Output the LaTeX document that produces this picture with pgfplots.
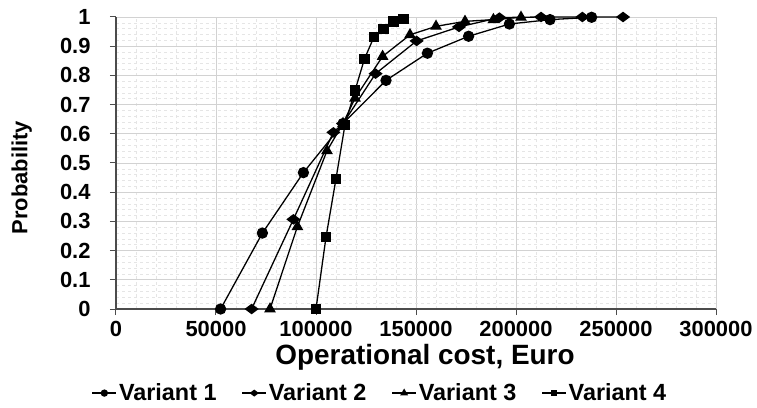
\documentclass[border=0pt]{standalone}
\usepackage{pgfplots}
\pgfplotsset{compat=1.18}
\usepackage{fontspec}
\setmainfont{Liberation Sans}
\begin{document}
\begin{tikzpicture}
\useasboundingbox (-116bp,-99bp) rectangle (641bp,309bp);
\begin{axis}[
  at={(0,0)}, anchor=south west,
  scale only axis, width=600bp, height=292bp,
  xmin=0, xmax=300000, ymin=0, ymax=1,
  xtick={0,50000,...,300000},
  ytick={0,0.1,...,1.0},
  minor x tick num=4, minor y tick num=4,
  grid=both,
  major grid style={draw=gray!35, line width=0.8bp},
  minor grid style={draw=gray!20, dashed, line width=0.6bp},
  axis x line*=bottom, axis y line*=left,
  axis line style={draw=gray!60!black, line width=1.8bp, -},
  tick align=outside,
  major tick length=6bp, minor tick length=0bp,
  tick style={draw=gray!60!black, line width=1bp},
  scaled ticks=false,
  /pgf/number format/assume math mode=true,
  x tick label style={/pgf/number format/fixed, /pgf/number format/1000 sep={}},
  y tick label style={/pgf/number format/fixed, /pgf/number format/precision=1},
  xticklabel style={font=\bfseries\fontsize{22}{24}\selectfont, yshift=-3bp},
  yticklabel style={font=\bfseries\fontsize{22}{24}\selectfont, anchor=east, xshift=-16bp},
  xlabel={Operational cost, Euro},
  ylabel={Probability},
  xlabel style={font=\bfseries\fontsize{28}{30}\selectfont, at={(axis description cs:0.515,-0.164)}, anchor=center},
  ylabel style={font=\bfseries\fontsize{22}{24}\selectfont, at={(axis description cs:-0.157,0.45)}, anchor=center, rotate=0},
  legend columns=4,
  legend style={draw=none, fill=none, at={(0.44,-0.288)}, anchor=center,
    font=\bfseries\fontsize{23.5}{25}\selectfont,
    /tikz/every even column/.append style={column sep=23bp}},
  legend image code/.code={\draw[mark repeat=2, mark phase=2, every mark/.append style={scale=0.6}] plot coordinates {(0bp,0bp) (12bp,0bp) (24bp,0bp)};},
  every axis plot/.append style={black, line width=1.3bp, mark options={solid, fill=black}},
]
\addplot[mark=*, mark size=5bp] coordinates {
 (52300,0) (73200,0.26) (93700,0.467) (113500,0.635) (135000,0.783) (155700,0.876)
 (176300,0.934) (196700,0.976) (217000,0.991) (237800,0.999)};
\addlegendentry{Variant 1}
\addplot[mark=diamond*, mark size=6bp, mark options={rotate=90}] coordinates {
 (67800,0) (88700,0.307) (108700,0.605) (113500,0.635) (129800,0.806) (150300,0.918)
 (171500,0.966) (191700,0.998) (212500,1) (233200,1) (253500,1)};
\addlegendentry{Variant 2}
\addplot[mark=triangle*, mark size=5.5bp] coordinates {
 (77000,0) (90700,0.282) (105500,0.542) (113500,0.635) (119500,0.722) (133300,0.865)
 (147000,0.939) (160000,0.968) (174500,0.985) (188700,0.991) (202500,0.999)};
\addlegendentry{Variant 3}
\addplot[mark=square*, mark size=4.5bp] coordinates {
 (100000,0) (105000,0.246) (110000,0.446) (114500,0.631) (119500,0.748) (124200,0.856)
 (129000,0.932) (133700,0.959) (138700,0.985) (143700,0.994)};
\addlegendentry{Variant 4}
\end{axis}
\end{tikzpicture}
\end{document}
